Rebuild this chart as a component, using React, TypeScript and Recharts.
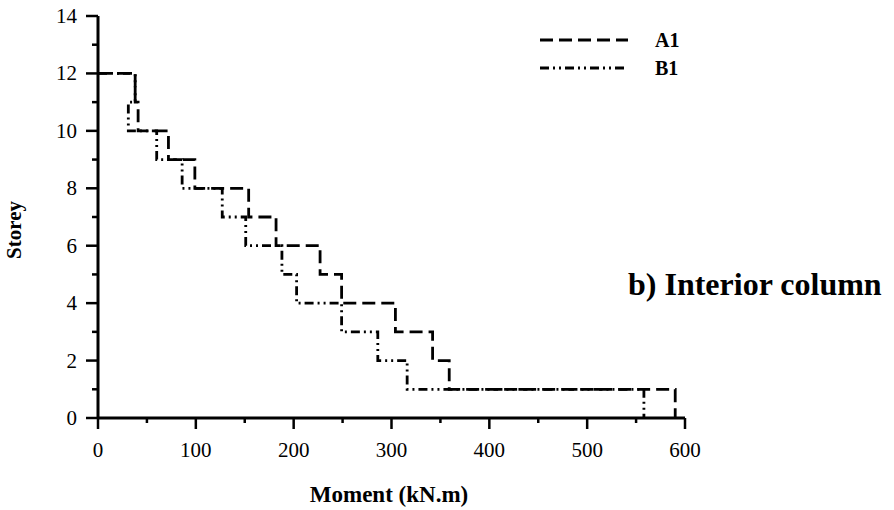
import React from 'react';
import { ComposedChart, Line, XAxis, YAxis } from 'recharts';

// Storey levels (top to bottom) and storey moments for each series
const storeys = [12, 11, 10, 9, 8, 7, 6, 5, 4, 3, 2, 1];
const momentA1 = [38, 41, 72, 99, 154, 182, 227, 249, 304, 342, 359, 590];
const momentB1 = [38, 31, 60, 86, 127, 151, 188, 203, 249, 286, 316, 558];

const xTicks = [0, 50, 100, 150, 200, 250, 300, 350, 400, 450, 500, 550, 600];
const xTickLabels = ['0', '100', '200', '300', '400', '500', '600'];
const yTicks = [0, 1, 2, 3, 4, 5, 6, 7, 8, 9, 10, 11, 12, 13, 14];
const yTickLabels = ['0', '2', '4', '6', '8', '10', '12', '14'];

const seriesNames = ['A1', 'B1'];
const xTitle = 'Moment (kN.m)';
const yTitle = 'Storey';
const chartTitle = 'b) Interior column';
const dashA1 = '13 6';
const dashB1 = '9 4 2 4 2 4';

type Pt = { m: number; s: number };
function stepPath(moments: number[]): Pt[] {
  const pts: Pt[] = [{ m: 0, s: storeys[0] }];
  storeys.forEach((s, i) => {
    pts.push({ m: moments[i], s });
    pts.push({ m: moments[i], s: s - 1 });
  });
  return pts;
}

const dataA1 = stepPath(momentA1);
const dataB1 = stepPath(momentB1);

const FONT = '"Liberation Serif", "Times New Roman", serif';

const YTick = (props: any) => {
  const { x, y, payload } = props;
  const v = payload.value;
  const major = yTickLabels.includes(String(v));
  return (
    <g>
      <line x1={x} x2={x - (major ? 12 : 6)} y1={y} y2={y} stroke="#000" strokeWidth={2.5} />
      {major && (
        <text x={x - 21} y={y + 7} textAnchor="end" fontFamily={FONT} fontSize={21} fill="#000">
          {v}
        </text>
      )}
    </g>
  );
};

const XTick = (props: any) => {
  const { x, y, payload } = props;
  const v = payload.value;
  const major = xTickLabels.includes(String(v));
  return (
    <g>
      <line x1={x} x2={x} y1={y} y2={y + (major ? 11 : 5)} stroke="#000" strokeWidth={2.5} />
      {major && (
        <text x={x} y={y + 39} textAnchor="middle" fontFamily={FONT} fontSize={21} fill="#000">
          {v}
        </text>
      )}
    </g>
  );
};

export default function App() {
  return (
    <div style={{ position: 'absolute', left: 0, top: 0, width: 894, height: 510, background: '#fff' }}>
      <ComposedChart width={894} height={510} margin={{ top: 16, right: 209, left: 0, bottom: 0 }}>
        <XAxis
          type="number"
          dataKey="m"
          domain={[0, 600]}
          ticks={xTicks}
          interval={0}
          tickSize={0}
          tickMargin={0}
          tickLine={false}
          tick={<XTick />}
          axisLine={{ stroke: '#000', strokeWidth: 3 }}
          height={92}
        />
        <YAxis
          type="number"
          dataKey="s"
          domain={[0, 14]}
          ticks={yTicks}
          interval={0}
          tickSize={0}
          tickMargin={0}
          tickLine={false}
          tick={<YTick />}
          axisLine={{ stroke: '#000', strokeWidth: 3 }}
          width={98}
        />
        <Line
          data={dataA1}
          dataKey="s"
          name={seriesNames[0]}
          type="linear"
          stroke="#000"
          strokeWidth={2.8}
          strokeDasharray={dashA1}
          dot={false}
          activeDot={false}
          isAnimationActive={false}
        />
        <Line
          data={dataB1}
          dataKey="s"
          name={seriesNames[1]}
          type="linear"
          stroke="#000"
          strokeWidth={2.8}
          strokeDasharray={dashB1}
          dot={false}
          activeDot={false}
          isAnimationActive={false}
        />
      </ComposedChart>
      <svg
        width={894}
        height={510}
        style={{ position: 'absolute', left: 0, top: 0, pointerEvents: 'none' }}
      >
        <line x1={540} x2={628} y1={40} y2={40} stroke="#000" strokeWidth={2.8} strokeDasharray={dashA1} />
        <text x={655} y={47} fontFamily={FONT} fontWeight="bold" fontSize={20} fill="#000">
          {seriesNames[0]}
        </text>
        <line x1={540} x2={628} y1={68} y2={68} stroke="#000" strokeWidth={2.8} strokeDasharray={dashB1} />
        <text x={655} y={75} fontFamily={FONT} fontWeight="bold" fontSize={20} fill="#000">
          {seriesNames[1]}
        </text>
        <text x={389} y={502} textAnchor="middle" fontFamily={FONT} fontWeight="bold" fontSize={23} fill="#000">
          {xTitle}
        </text>
        <text
          x={21}
          y={230}
          textAnchor="middle"
          fontFamily={FONT}
          fontWeight="bold"
          fontSize={21}
          fill="#000"
          transform="rotate(-90, 21, 230)"
        >
          {yTitle}
        </text>
        <text x={628} y={295} fontFamily={FONT} fontWeight="bold" fontSize={32} fill="#000">
          {chartTitle}
        </text>
      </svg>
    </div>
  );
}
